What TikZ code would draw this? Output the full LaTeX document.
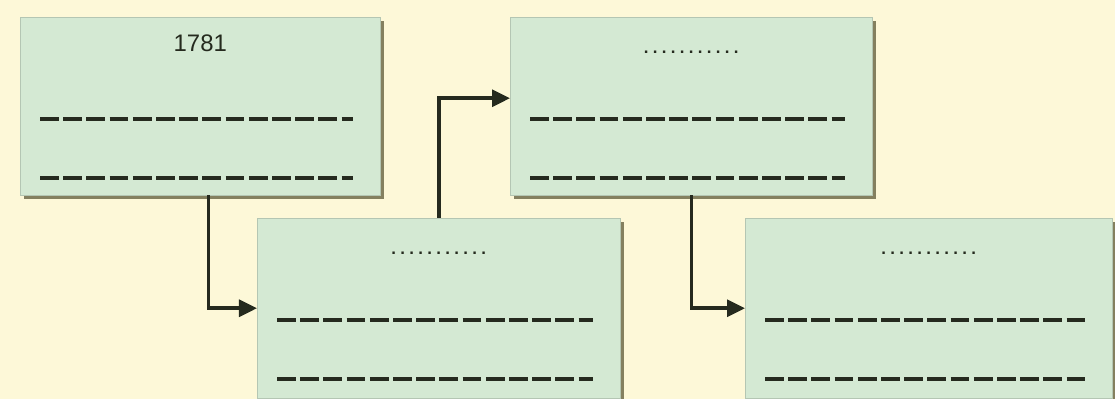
\documentclass[tikz,border=0pt]{standalone}
\usepackage{fontspec}
\setmainfont{Liberation Sans}
\usetikzlibrary{arrows.meta,shadows,positioning}
\definecolor{paper}{HTML}{FDF8D8}
\definecolor{cardfill}{HTML}{D4E9D3}
\definecolor{ink}{HTML}{252A1E}
\tikzset{
  card/.style={draw=cardfill!85!black, line width=0.3pt, fill=cardfill,
    minimum height=4.45cm, inner sep=0pt, anchor=north west,
    drop shadow={shadow xshift=0.1cm, shadow yshift=-0.1cm, fill=black!55!olive, opacity=0.7}},
  blankline/.style={draw=ink, line width=2.6pt, dash pattern=on 0.47cm off 0.11cm},
  link/.style={draw=ink, line width=2.5pt, -{Triangle[length=0.45cm,width=0.42cm]}},
  heading/.style={font=\fontsize{17}{19}\selectfont, text=ink},
  dotted title/.style={anchor=base, text=ink, font=\large\bfseries},
}
\newcommand{\dotrow}{\foreach \k in {1,...,11}{\makebox[6.4pt]{.}}}

\begin{document}
\begin{tikzpicture}[x=0.025cm, y=-0.025cm]
  \fill[paper] (0,0) rectangle (1115,399);
  \useasboundingbox (0,0) rectangle (1115,399);
  \clip (0,0) rectangle (1115,399);
  % the four cards
  \node[card, minimum width=9cm] (first) at (20,17) {};
  \node[card, minimum width=9.05cm] (third) at (510,17) {};
  \node[card, minimum width=9.075cm, minimum height=4.5cm] (second) at (257,218) {};
  \node[card, minimum width=9.175cm, minimum height=4.5cm] (fourth) at (745,218) {};
  % titles
  \node[heading] (firsttitle) at ([yshift=-0.65cm]first.north) {1781};
  \node[dotted title] (secondtitle) at ([yshift=-0.9cm]second.north) {\dotrow};
  \node[dotted title] (thirdtitle) at ([yshift=-0.9cm]third.north) {\dotrow};
  \node[dotted title] (fourthtitle) at ([yshift=-0.9cm]fourth.north) {\dotrow};
  % blank lines
  \foreach \card in {first,second,third,fourth}{
    \draw[blankline] ([xshift=0.5cm,yshift=-2.55cm]\card.north west) -- ([xshift=-0.68cm,yshift=-2.55cm]\card.north east);
    \draw[blankline] ([xshift=0.5cm,yshift=-4.02cm]\card.north west) -- ([xshift=-0.68cm,yshift=-4.02cm]\card.north east);
  }
  % connectors
  \draw[link] ([xshift=0.2cm]first.south) |- (second.west);
  \draw[link] (second.north) |- ([yshift=0.2cm]third.west);
  \draw[link] (third.south) |- (fourth.west);
\end{tikzpicture}
\end{document}
